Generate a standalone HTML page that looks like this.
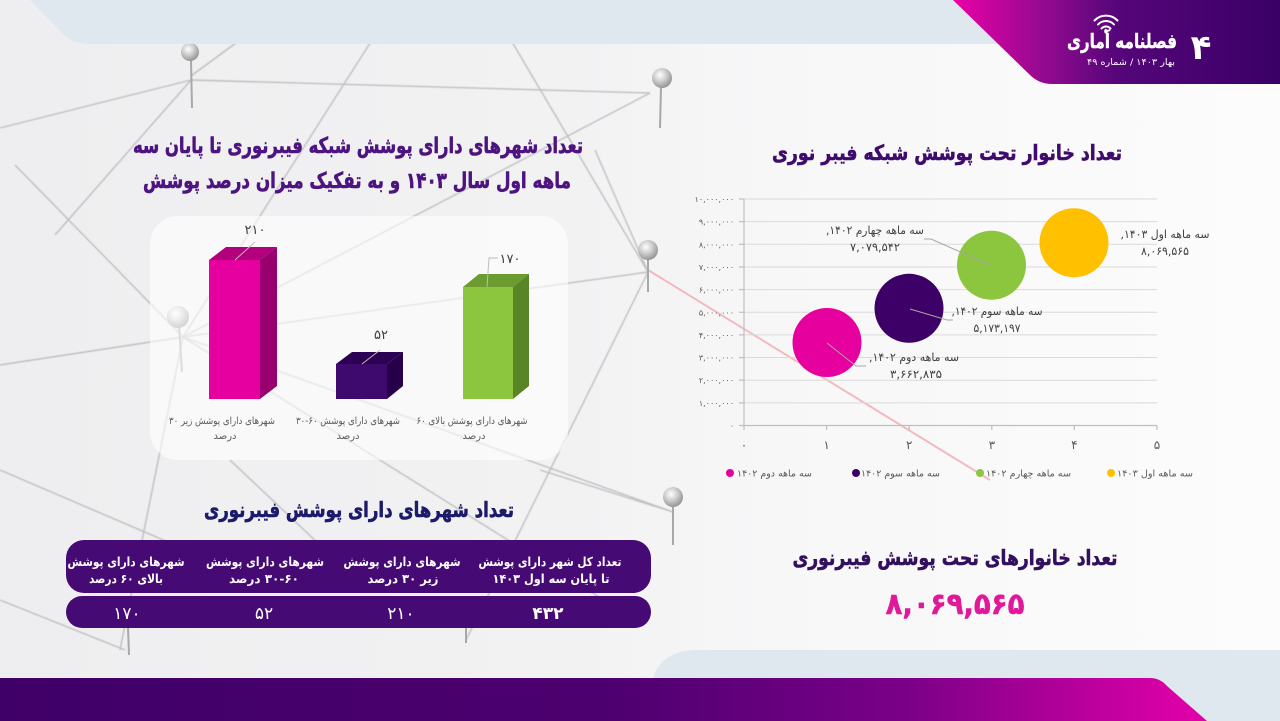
<!DOCTYPE html>
<html><head><meta charset="utf-8">
<style>
html,body{margin:0;padding:0;background:#f4f4f5;}
svg{display:block;}
text{font-family:"DejaVu Sans","Liberation Sans",sans-serif;}
.b{font-weight:bold;}
</style></head><body>
<svg width="1280" height="721" viewBox="0 0 1280 721" xmlns="http://www.w3.org/2000/svg">
<defs>
 <linearGradient id="bg" x1="0" x2="1" y1="0" y2="0">
  <stop offset="0" stop-color="#eeeef0"/>
  <stop offset="0.45" stop-color="#f2f2f3"/>
  <stop offset="0.6" stop-color="#f7f7f8"/>
  <stop offset="1" stop-color="#fcfcfc"/>
 </linearGradient>
 <linearGradient id="hdr" gradientUnits="userSpaceOnUse" x1="955" y1="0" x2="1280" y2="0">
  <stop offset="0" stop-color="#e800a6"/>
  <stop offset="0.25" stop-color="#9a0a92"/>
  <stop offset="0.5" stop-color="#55067a"/>
  <stop offset="1" stop-color="#3a0066"/>
 </linearGradient>
 <linearGradient id="ftr" gradientUnits="userSpaceOnUse" x1="0" y1="0" x2="1207" y2="0">
  <stop offset="0" stop-color="#3f0068"/>
  <stop offset="0.5" stop-color="#4c006f"/>
  <stop offset="0.75" stop-color="#7a0088"/>
  <stop offset="1" stop-color="#e400aa"/>
 </linearGradient>
 <radialGradient id="pin" cx="0.4" cy="0.35" r="0.7">
  <stop offset="0" stop-color="#ffffff"/>
  <stop offset="0.45" stop-color="#cfcfcf"/>
  <stop offset="1" stop-color="#8e8e8e"/>
 </radialGradient>
 <filter id="blur"><feGaussianBlur stdDeviation="0.6"/></filter>
</defs>

<!-- background -->
<rect x="0" y="0" width="1280" height="721" fill="url(#bg)"/>

<!-- network lines -->
<g stroke="#b6b6b9" stroke-width="1.4" fill="none" opacity="0.85" filter="url(#blur)">
 <line x1="0" y1="128" x2="191" y2="80"/>
 <line x1="191" y1="80" x2="650" y2="93"/>
 <line x1="240" y1="40" x2="191" y2="76"/>
 <line x1="191" y1="80" x2="55" y2="235"/>
 <line x1="372" y1="40" x2="183" y2="337"/>
 <line x1="505" y1="30" x2="648" y2="272"/>
 <line x1="650" y1="93" x2="183" y2="337"/>
 <line x1="0" y1="365" x2="183" y2="337"/>
 <line x1="183" y1="337" x2="648" y2="272"/>
 <line x1="15" y1="165" x2="183" y2="337"/>
 <line x1="183" y1="337" x2="120" y2="650"/>
 <line x1="183" y1="337" x2="620" y2="610"/>
 <line x1="183" y1="337" x2="673" y2="512"/>
 <line x1="648" y1="272" x2="595" y2="150"/>
 <line x1="648" y1="272" x2="466" y2="640"/>
 <line x1="673" y1="512" x2="540" y2="470"/>
 <line x1="0" y1="470" x2="210" y2="560"/>
 <line x1="0" y1="600" x2="125" y2="650"/>
 <line x1="230" y1="460" x2="320" y2="545"/>
</g>
<line x1="648" y1="270" x2="990" y2="480" stroke="#f0a0a8" stroke-width="2" opacity="0.7"/>

<!-- pins -->
<g stroke="#a8a8a8" stroke-width="2">
 <line x1="191" y1="60" x2="192" y2="108"/>
 <line x1="661" y1="86" x2="660" y2="128"/>
 <line x1="179" y1="326" x2="182" y2="372"/>
 <line x1="648" y1="258" x2="648" y2="292"/>
 <line x1="673" y1="505" x2="673" y2="545"/>
 <line x1="128" y1="628" x2="129" y2="655"/>
 <line x1="466" y1="628" x2="466" y2="643"/>
</g>
<circle cx="190" cy="52" r="9" fill="url(#pin)"/>
<circle cx="662" cy="78" r="10" fill="url(#pin)"/>
<circle cx="178" cy="317" r="11" fill="url(#pin)"/>
<circle cx="648" cy="250" r="10" fill="url(#pin)"/>
<circle cx="673" cy="497" r="10" fill="url(#pin)"/>

<!-- top band -->
<path d="M30,0 L1000,0 L1000,44 L90,44 Q72,44 62,33 Z" fill="#dfe8ee"/>

<!-- header -->
<path d="M953,0 L1280,0 L1280,84 L1052,84 Q1040,84 1031,76 Z" fill="url(#hdr)"/>
<g stroke="#fff" stroke-width="2" fill="none" stroke-linecap="round">
 <path d="M1101.5,28.5 A6,6 0 0 1 1110.5,28.5"/>
 <path d="M1098,24.5 A11,11 0 0 1 1114,24.5"/>
 <path d="M1094.5,20.5 A16,16 0 0 1 1117.5,20.5"/>
</g>
<circle cx="1106" cy="32" r="1.6" fill="#fff"/>
<text x="1122" y="48" font-size="20" class="b" fill="#fff" stroke="#fff" stroke-width="0.4" text-anchor="middle" textLength="110" lengthAdjust="spacingAndGlyphs">فصلنامه آماری</text>
<text x="1201" y="59" font-size="34" class="b" fill="#fff" text-anchor="middle">۴</text>
<text x="1131" y="65" font-size="9" fill="#fff" text-anchor="middle" direction="rtl" textLength="88" lengthAdjust="spacingAndGlyphs">بهار ۱۴۰۳ / شماره ۴۹</text>

<!-- left title -->
<g stroke="#4d1480" stroke-width="0.6">
<text x="358" y="153" font-size="22" class="b" fill="#4d1480" text-anchor="middle" textLength="450" lengthAdjust="spacingAndGlyphs">تعداد شهرهای دارای پوشش شبکه فیبرنوری تا پایان سه</text>
<text x="357" y="188" font-size="22" class="b" fill="#4d1480" text-anchor="middle" direction="rtl" textLength="428" lengthAdjust="spacingAndGlyphs">ماهه اول سال ۱۴۰۳ و به تفکیک میزان درصد پوشش</text>
</g>

<!-- bar chart card -->
<rect x="150" y="216" width="418" height="244" rx="28" fill="#ffffff" opacity="0.6"/>

<!-- bars -->
<rect x="209" y="260" width="51" height="139" fill="#e600a0"/>
<polygon points="209,260 226,247 277,247 260,260" fill="#b3007c"/>
<polygon points="260,260 277,247 277,386 260,399" fill="#980070"/>

<rect x="336" y="364" width="51" height="35" fill="#3f0a6e"/>
<polygon points="336,364 352,352 403,352 387,364" fill="#2c0052"/>
<polygon points="387,364 403,352 403,386 387,399" fill="#27004a"/>

<rect x="463" y="287" width="50" height="112" fill="#8cc63f"/>
<polygon points="463,287 479,274 529,274 513,287" fill="#6c9c30"/>
<polygon points="513,287 529,274 529,386 513,399" fill="#5a8526"/>

<g stroke="#bdbdbd" stroke-width="1" fill="none">
 <line x1="235" y1="260" x2="255" y2="242"/>
 <line x1="362" y1="364" x2="380" y2="350"/>
 <polyline points="487,287 489,258 498,258"/>
</g>
<text x="255" y="234" font-size="13" fill="#404040" text-anchor="middle">۲۱۰</text>
<text x="381" y="339" font-size="13" fill="#404040" text-anchor="middle">۵۲</text>
<text x="510" y="263" font-size="13" fill="#404040" text-anchor="middle">۱۷۰</text>

<g font-size="10" fill="#595959" text-anchor="middle">
 <text x="222" y="424" direction="rtl" textLength="106" lengthAdjust="spacingAndGlyphs">شهرهای دارای پوشش زیر ۳۰</text>
 <text x="225" y="439">درصد</text>
 <text x="348" y="424" textLength="104" lengthAdjust="spacingAndGlyphs">شهرهای دارای پوشش ۶۰-۳۰</text>
 <text x="348" y="439">درصد</text>
 <text x="472" y="424" direction="rtl" textLength="111" lengthAdjust="spacingAndGlyphs">شهرهای دارای پوشش بالای ۶۰</text>
 <text x="474" y="439">درصد</text>
</g>

<!-- table -->
<text x="359" y="517" font-size="21" class="b" fill="#1c1a6a" stroke="#1c1a6a" stroke-width="0.6" text-anchor="middle" textLength="310" lengthAdjust="spacingAndGlyphs">تعداد شهرهای دارای پوشش فیبرنوری</text>
<rect x="66" y="540" width="585" height="53" rx="18" fill="#460a74"/>
<rect x="66" y="596" width="585" height="32" rx="16" fill="#460a74"/>
<g font-size="12.5" class="b" fill="#ffffff" text-anchor="middle">
 <text x="550" y="566" textLength="143" lengthAdjust="spacingAndGlyphs">تعداد کل شهر دارای پوشش</text>
 <text x="551" y="583" direction="rtl" textLength="117" lengthAdjust="spacingAndGlyphs">تا پایان سه اول ۱۴۰۳</text>
 <text x="402" y="566" textLength="117" lengthAdjust="spacingAndGlyphs">شهرهای دارای پوشش</text>
 <text x="403" y="583" direction="rtl" textLength="71" lengthAdjust="spacingAndGlyphs">زیر ۳۰ درصد</text>
 <text x="265" y="566" textLength="118" lengthAdjust="spacingAndGlyphs">شهرهای دارای پوشش</text>
 <text x="264" y="583" direction="rtl" textLength="70" lengthAdjust="spacingAndGlyphs">۳۰-۶۰ درصد</text>
 <text x="126" y="566" textLength="117" lengthAdjust="spacingAndGlyphs">شهرهای دارای پوشش</text>
 <text x="126" y="583" direction="rtl" textLength="74" lengthAdjust="spacingAndGlyphs">بالای ۶۰ درصد</text>
</g>
<g font-size="17" fill="#ffffff" text-anchor="middle">
 <text x="127" y="619">۱۷۰</text>
 <text x="264" y="619">۵۲</text>
 <text x="401" y="619">۲۱۰</text>
 <text x="548" y="619" class="b">۴۳۲</text>
</g>

<!-- right title -->
<text x="947" y="160" font-size="21" class="b" fill="#3f0c6c" stroke="#3f0c6c" stroke-width="0.6" text-anchor="middle" textLength="350" lengthAdjust="spacingAndGlyphs">تعداد خانوار تحت پوشش شبکه فیبر نوری</text>

<!-- bubble chart -->
<g stroke="#dadada" stroke-width="1">
 <line x1="744" y1="199" x2="1157" y2="199"/>
 <line x1="744" y1="221.65" x2="1157" y2="221.65"/>
 <line x1="744" y1="244.3" x2="1157" y2="244.3"/>
 <line x1="744" y1="266.95" x2="1157" y2="266.95"/>
 <line x1="744" y1="289.6" x2="1157" y2="289.6"/>
 <line x1="744" y1="312.25" x2="1157" y2="312.25"/>
 <line x1="744" y1="334.9" x2="1157" y2="334.9"/>
 <line x1="744" y1="357.55" x2="1157" y2="357.55"/>
 <line x1="744" y1="380.2" x2="1157" y2="380.2"/>
 <line x1="744" y1="402.85" x2="1157" y2="402.85"/>
</g>
<g stroke="#bfbfbf" stroke-width="1.2">
 <line x1="744" y1="199" x2="744" y2="425.5"/>
 <line x1="744" y1="425.5" x2="1157" y2="425.5"/>
 <line x1="739" y1="199" x2="744" y2="199"/>
 <line x1="739" y1="221.65" x2="744" y2="221.65"/>
 <line x1="739" y1="244.3" x2="744" y2="244.3"/>
 <line x1="739" y1="266.95" x2="744" y2="266.95"/>
 <line x1="739" y1="289.6" x2="744" y2="289.6"/>
 <line x1="739" y1="312.25" x2="744" y2="312.25"/>
 <line x1="739" y1="334.9" x2="744" y2="334.9"/>
 <line x1="739" y1="357.55" x2="744" y2="357.55"/>
 <line x1="739" y1="380.2" x2="744" y2="380.2"/>
 <line x1="739" y1="402.85" x2="744" y2="402.85"/>
 <line x1="739" y1="425.5" x2="744" y2="425.5"/>
 <line x1="744" y1="425.5" x2="744" y2="430"/>
 <line x1="826.6" y1="425.5" x2="826.6" y2="430"/>
 <line x1="909.2" y1="425.5" x2="909.2" y2="430"/>
 <line x1="991.8" y1="425.5" x2="991.8" y2="430"/>
 <line x1="1074.4" y1="425.5" x2="1074.4" y2="430"/>
 <line x1="1157" y1="425.5" x2="1157" y2="430"/>
</g>
<g font-size="8" fill="#595959" text-anchor="end">
 <text x="734" y="202">۱۰,۰۰۰,۰۰۰</text>
 <text x="734" y="224.6">۹,۰۰۰,۰۰۰</text>
 <text x="734" y="247.3">۸,۰۰۰,۰۰۰</text>
 <text x="734" y="270">۷,۰۰۰,۰۰۰</text>
 <text x="734" y="292.6">۶,۰۰۰,۰۰۰</text>
 <text x="734" y="315.3">۵,۰۰۰,۰۰۰</text>
 <text x="734" y="337.9">۴,۰۰۰,۰۰۰</text>
 <text x="734" y="360.6">۳,۰۰۰,۰۰۰</text>
 <text x="734" y="383.2">۲,۰۰۰,۰۰۰</text>
 <text x="734" y="405.9">۱,۰۰۰,۰۰۰</text>
 <text x="734" y="428.5">۰</text>
</g>
<g font-size="12" fill="#595959" text-anchor="middle">
 <text x="744" y="449">۰</text>
 <text x="826.6" y="449">۱</text>
 <text x="909.2" y="449">۲</text>
 <text x="991.8" y="449">۳</text>
 <text x="1074.4" y="449">۴</text>
 <text x="1157" y="449">۵</text>
</g>

<circle cx="827" cy="342.5" r="34.5" fill="#e6009d"/>
<circle cx="909" cy="308.3" r="34.5" fill="#3d0066"/>
<circle cx="991.5" cy="265.2" r="34.5" fill="#8cc63f"/>
<circle cx="1074" cy="242.7" r="34.5" fill="#ffc000"/>

<g stroke="#a6a6a6" stroke-width="1" fill="none">
 <polyline points="827,343 856,366 866,366"/>
 <polyline points="910,309 947,320 953,320"/>
 <polyline points="924,239 931,239 990,265"/>
</g>
<g font-size="11.5" fill="#404040" text-anchor="middle">
 <text x="1165" y="238" direction="rtl" textLength="89" lengthAdjust="spacingAndGlyphs">سه ماهه اول ۱۴۰۳,</text>
 <text x="1165" y="255" textLength="48" lengthAdjust="spacingAndGlyphs">۸,۰۶۹,۵۶۵</text>
 <text x="875" y="234" direction="rtl" textLength="98" lengthAdjust="spacingAndGlyphs">سه ماهه چهارم ۱۴۰۲,</text>
 <text x="875" y="251" textLength="50" lengthAdjust="spacingAndGlyphs">۷,۰۷۹,۵۴۲</text>
 <text x="997" y="315" direction="rtl" textLength="91" lengthAdjust="spacingAndGlyphs">سه ماهه سوم ۱۴۰۲,</text>
 <text x="997" y="332" textLength="47" lengthAdjust="spacingAndGlyphs">۵,۱۷۳,۱۹۷</text>
 <text x="914" y="361" direction="rtl" textLength="90" lengthAdjust="spacingAndGlyphs">سه ماهه دوم ۱۴۰۲,</text>
 <text x="916" y="378" textLength="52" lengthAdjust="spacingAndGlyphs">۳,۶۶۲,۸۳۵</text>
</g>

<!-- legend -->
<circle cx="730" cy="473" r="4" fill="#e6009d"/>
<circle cx="856" cy="473" r="4" fill="#3d0066"/>
<circle cx="980" cy="473" r="4" fill="#8cc63f"/>
<circle cx="1111" cy="473" r="4" fill="#ffc000"/>
<g font-size="9.5" fill="#595959" text-anchor="middle">
 <text x="774.5" y="476.5" direction="rtl" textLength="75" lengthAdjust="spacingAndGlyphs">سه ماهه دوم ۱۴۰۲</text>
 <text x="900.5" y="476.5" direction="rtl" textLength="79" lengthAdjust="spacingAndGlyphs">سه ماهه سوم ۱۴۰۲</text>
 <text x="1028.5" y="476.5" direction="rtl" textLength="85" lengthAdjust="spacingAndGlyphs">سه ماهه چهارم ۱۴۰۲</text>
 <text x="1155" y="476.5" direction="rtl" textLength="76" lengthAdjust="spacingAndGlyphs">سه ماهه اول ۱۴۰۳</text>
</g>

<!-- bottom right totals -->
<text x="955" y="565" font-size="21" class="b" fill="#33105e" stroke="#33105e" stroke-width="0.6" text-anchor="middle" textLength="325" lengthAdjust="spacingAndGlyphs">تعداد خانوارهای تحت پوشش فیبرنوری</text>
<text x="955" y="614" font-size="30" class="b" fill="#e0189a" stroke="#e0189a" stroke-width="0.5" text-anchor="middle" textLength="139" lengthAdjust="spacingAndGlyphs">۸,۰۶۹,۵۶۵</text>

<!-- bottom bands -->
<path d="M650,721 L650,692 Q654,650 698,650 L1280,650 L1280,721 Z" fill="#dfe8ee"/>
<path d="M0,678 L1150,678 Q1160,678 1167,686 L1207,721 L0,721 Z" fill="url(#ftr)"/>
</svg>
</body></html>
